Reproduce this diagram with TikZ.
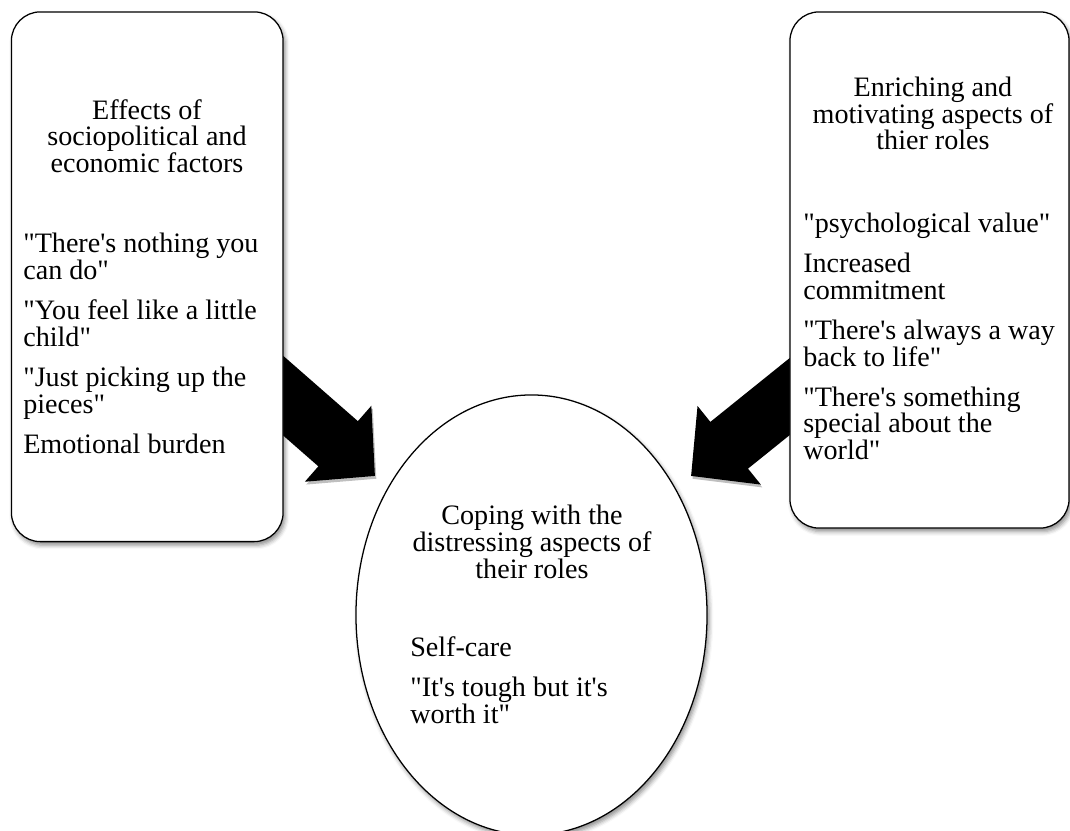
\documentclass[tikz,border=0pt]{standalone}
\usepackage{fontspec}
\setmainfont{Liberation Serif}[Ligatures=TeXOff]
\usetikzlibrary{arrows.meta,shapes.geometric,shadows.blur,backgrounds}
\tikzset{
	panel/.style={draw,line width=0.9pt,fill=white,inner sep=0pt,
			blur shadow={shadow xshift=1.5pt,shadow yshift=-2.5pt,shadow blur radius=3pt,shadow opacity=45}},
	heading/.style={align=center,inner sep=0pt,font=\fontsize{20}{19}\selectfont},
	points/.style={align=left,inner sep=0pt,font=\fontsize{20}{19}\selectfont},
	bigarrow/.style={line width=1.5cm,-{Triangle[length=1.225cm,width=2.45cm]},
			preaction={draw=black!25,transform canvas={shift={(1pt,-2pt)}}}}
}

\begin{document}
\begin{tikzpicture}[x=0.025cm,y=-0.025cm]
    \useasboundingbox (0,0) rectangle (1070,830);
    \node[panel,rounded corners=0.725cm,minimum width=6.79cm,minimum height=13.24cm] (effects) at (147.25,276.75) {};
    \node[panel,rounded corners=0.725cm,minimum width=6.975cm,minimum height=12.9cm] (enriching) at (929.5,270) {};
    \node[panel,ellipse,minimum width=8.775cm,minimum height=11cm] (coping) at (531.5,615) {};
    \node[heading] (effectstitle) at (147,136) {Effects of\\sociopolitical and\\economic factors};
    \node[points,anchor=west] (effectsitems) at (23,343.5) {"There's nothing you\\can do"\\[9.5pt]"You feel like a little\\child"\\[9.5pt]"Just picking up the\\pieces"\\[9.5pt]Emotional burden};
    \node[heading] (enrichingtitle) at (933,113.5) {Enriching and\\motivating aspects of\\thier roles};
    \node[points,anchor=west] (enrichingitems) at (803,336.5) {"psychological value"\\[9.5pt]Increased\\commitment\\[9.5pt]"There's always a way\\back to life"\\[9.5pt]"There's something\\special about the\\world"};
    \node[heading] (copingtitle) at (532,542) {Coping with the\\distressing aspects of\\their roles};
    \node[points,anchor=west] (copingitems) at (410,680) {Self-care\\[9.5pt]"It's tough but it's\\worth it"};
    \coordinate (effectstip) at (375,476);
    \coordinate (enrichingtip) at (691,476);
    \begin{scope}[on background layer]
        \draw[bigarrow] (effects.center) -- (effectstip);
        \draw[bigarrow] ([yshift=-0.35cm]enriching.center) -- (enrichingtip);
    \end{scope}
\end{tikzpicture}
\end{document}
